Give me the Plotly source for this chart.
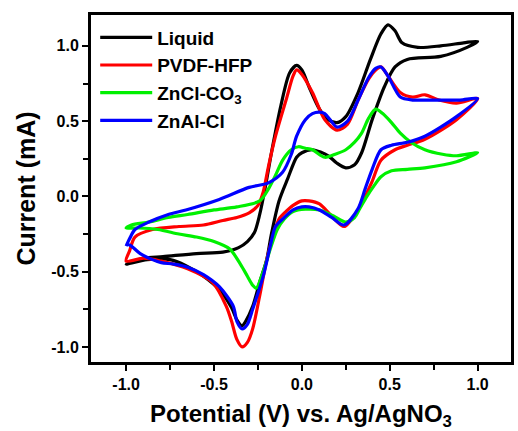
import plotly.graph_objects as go

# ---------------- data ----------------
liquid_v = [-1.0, -0.9, -0.79, -0.6, -0.45, -0.36, -0.31, -0.27, -0.24, -0.21, -0.17, -0.12, -0.07, -0.03, 0.0,
            0.04, 0.1, 0.15, 0.2, 0.25, 0.32, 0.39, 0.45, 0.49, 0.53, 0.57, 0.66, 0.79, 0.92, 1.0,
            0.94, 0.79, 0.6, 0.53, 0.47, 0.40, 0.34, 0.30, 0.25, 0.2, 0.15, 0.06, 0.0, -0.03, -0.08, -0.13,
            -0.175, -0.2, -0.24, -0.28, -0.32, -0.34, -0.37, -0.40, -0.47, -0.56, -0.66, -0.75, -0.88, -1.0]
liquid_i = [-0.45, -0.41, -0.40, -0.38, -0.37, -0.34, -0.30, -0.24, -0.12, 0.05, 0.31, 0.60, 0.82, 0.87, 0.84,
            0.73, 0.58, 0.51, 0.49, 0.53, 0.69, 0.91, 1.08, 1.14, 1.10, 1.02, 0.99, 1.00, 1.02, 1.03,
            0.99, 0.93, 0.91, 0.86, 0.73, 0.51, 0.29, 0.21, 0.19, 0.22, 0.27, 0.31, 0.29, 0.26, 0.12, -0.03,
            -0.26, -0.42, -0.57, -0.73, -0.83, -0.86, -0.82, -0.74, -0.62, -0.53, -0.46, -0.42, -0.42, -0.45]

pvdf_v = [-1.0, -0.98, -0.95, -0.85, -0.7, -0.56, -0.45, -0.37, -0.30, -0.25, -0.22, -0.19, -0.15, -0.09, -0.05,
          -0.03, 0.0, 0.06, 0.13, 0.2, 0.26, 0.32, 0.38, 0.42, 0.45, 0.49, 0.56, 0.63, 0.7, 0.78, 0.88, 1.0,
          0.88, 0.7, 0.6, 0.53, 0.45, 0.40, 0.36, 0.32, 0.24, 0.17, 0.1, 0.04, 0.0, -0.05, -0.09, -0.13,
          -0.16, -0.20, -0.24, -0.28, -0.31, -0.34, -0.37, -0.40, -0.43, -0.51, -0.65, -0.8, -0.9, -1.0]
pvdf_i = [-0.43, -0.36, -0.27, -0.22, -0.20, -0.19, -0.16, -0.14, -0.11, -0.06, 0.03, 0.2, 0.40, 0.64, 0.80,
          0.84, 0.81, 0.69, 0.51, 0.44, 0.48, 0.64, 0.78, 0.84, 0.86, 0.80, 0.69, 0.66, 0.675, 0.64, 0.62, 0.65,
          0.51, 0.38, 0.34, 0.31, 0.24, 0.10, 0.0, -0.09, -0.20, -0.13, -0.05, -0.03, -0.03, -0.06, -0.10, -0.15,
          -0.25, -0.42, -0.66, -0.88, -0.97, -1.0, -0.95, -0.83, -0.73, -0.57, -0.48, -0.43, -0.41, -0.43]

zncl_v = [-1.0, -0.97, -0.87, -0.76, -0.65, -0.5, -0.37, -0.24, -0.19, -0.15, -0.11, -0.06, -0.02, 0.02, 0.06,
          0.13, 0.19, 0.25, 0.30, 0.34, 0.38, 0.42, 0.46, 0.51, 0.56, 0.62, 0.7, 0.8, 0.88, 1.0,
          0.88, 0.7, 0.6, 0.51, 0.45, 0.41, 0.37, 0.33, 0.30, 0.25, 0.18, 0.1, 0.02, -0.05, -0.1, -0.14,
          -0.18, -0.22, -0.26, -0.28, -0.31, -0.35, -0.41, -0.5, -0.6, -0.7, -0.82, -0.93, -1.0]
zncl_i = [-0.21, -0.19, -0.17, -0.14, -0.12, -0.09, -0.07, -0.03, 0.05, 0.14, 0.24, 0.31, 0.33, 0.32, 0.31,
          0.26, 0.28, 0.31, 0.36, 0.42, 0.52, 0.58, 0.55, 0.49, 0.42, 0.36, 0.31, 0.28, 0.27, 0.29,
          0.23, 0.19, 0.18, 0.17, 0.13, 0.07, 0.0, -0.08, -0.14, -0.17, -0.13, -0.09, -0.085, -0.10, -0.15, -0.22,
          -0.35, -0.50, -0.61, -0.59, -0.53, -0.45, -0.35, -0.30, -0.27, -0.25, -0.22, -0.21, -0.21]

znal_v = [-1.0, -0.98, -0.95, -0.87, -0.76, -0.66, -0.47, -0.3, -0.19, -0.11, -0.06, -0.03, 0.02, 0.06, 0.1,
          0.13, 0.16, 0.2, 0.26, 0.32, 0.38, 0.42, 0.45, 0.49, 0.56, 0.63, 0.7, 0.8, 0.9, 1.0,
          0.88, 0.7, 0.6, 0.51, 0.45, 0.40, 0.36, 0.32, 0.24, 0.17, 0.1, 0.04, 0.0, -0.05, -0.1, -0.15,
          -0.18, -0.22, -0.28, -0.31, -0.34, -0.37, -0.39, -0.47, -0.56, -0.65, -0.73, -0.8, -0.85, -0.92, -0.97, -1.0]
znal_i = [-0.33, -0.28, -0.22, -0.17, -0.12, -0.09, -0.02, 0.06, 0.09, 0.16, 0.28, 0.40, 0.51, 0.55, 0.56,
          0.55, 0.51, 0.46, 0.50, 0.64, 0.79, 0.85, 0.86, 0.80, 0.66, 0.64, 0.64, 0.64, 0.64, 0.65,
          0.53, 0.40, 0.36, 0.34, 0.31, 0.18, 0.05, -0.08, -0.19, -0.14, -0.09, -0.07, -0.07, -0.09, -0.14, -0.20,
          -0.33, -0.53, -0.75, -0.85, -0.88, -0.83, -0.73, -0.60, -0.52, -0.47, -0.45, -0.44, -0.42, -0.38, -0.33, -0.31]

series_names = ["Liquid", "PVDF-HFP", "ZnCl-CO<sub>3</sub>", "ZnAl-Cl"]
series_colors = ["#000000", "#ff0000", "#00f000", "#0000ff"]
series_v = [liquid_v, pvdf_v, zncl_v, znal_v]
series_i = [liquid_i, pvdf_i, zncl_i, znal_i]

x_tickvals = [-1.0, -0.5, 0.0, 0.5, 1.0]
x_ticktext = ["-1.0", "-0.5", "0.0", "0.5", "1.0"]
y_tickvals = [-1.0, -0.5, 0.0, 0.5, 1.0]
y_ticktext = ["-1.0", "-0.5", "0.0", "0.5", "1.0"]

FONT = "Arial, Liberation Sans, sans-serif"

fig = go.Figure()
for name, col, v, i in zip(series_names, series_colors, series_v, series_i):
    fig.add_trace(go.Scatter(x=v, y=i, mode="lines", name=name,
                             line=dict(color=col, width=3.2, shape="spline", smoothing=0.8)))

axis_common = dict(showline=True, linecolor="black", linewidth=3, mirror=True,
                   ticks="outside", ticklen=6, tickwidth=2, tickcolor="black",
                   showgrid=False, zeroline=False,
                   tickfont=dict(family=FONT, size=16, color="black", weight="bold"))

fig.update_xaxes(range=[-1.2, 1.19], tickvals=x_tickvals, ticktext=x_ticktext,
                 minor=dict(ticks="outside", dtick=0.25, tick0=0, ticklen=5, tickwidth=2, tickcolor="black"),
                 title=dict(text="Potential (V) vs. Ag/AgNO<sub>3</sub>", standoff=13,
                            font=dict(family=FONT, size=24, color="black", weight="bold")),
                 **axis_common)
fig.update_yaxes(range=[-1.1, 1.205], tickvals=y_tickvals, ticktext=y_ticktext,
                 minor=dict(ticks="outside", dtick=0.25, tick0=0, ticklen=5, tickwidth=2, tickcolor="black"),
                 title=dict(text="Current (mA)", standoff=9,
                            font=dict(family=FONT, size=25, color="black", weight="bold")),
                 **axis_common)

fig.update_layout(
    width=518, height=431,
    margin=dict(l=91, r=4, t=15, b=69),
    paper_bgcolor="white", plot_bgcolor="white",
    showlegend=True,
    legend=dict(x=0.01, y=0.99, xanchor="left", yanchor="top",
                bgcolor="rgba(0,0,0,0)", itemwidth=52, tracegroupgap=0,
                font=dict(family=FONT, size=19, color="black", weight="bold")),
)

fig.write_html("out.html")
